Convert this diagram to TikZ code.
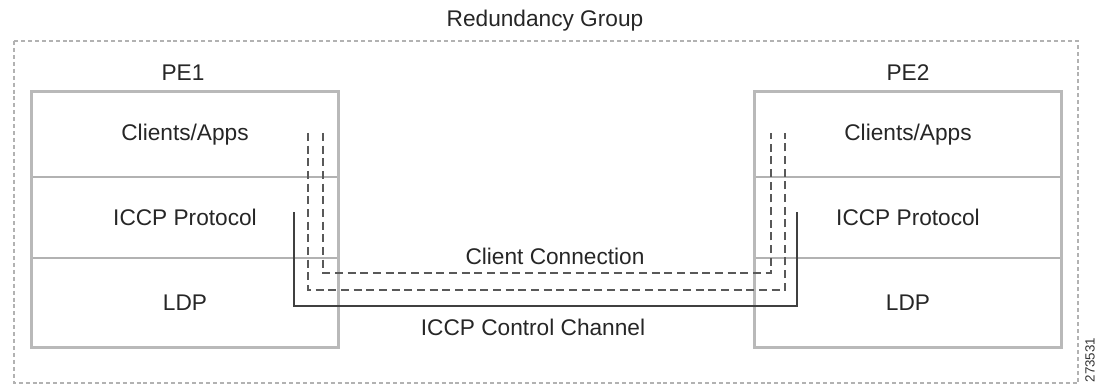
\documentclass[tikz,border=0pt]{standalone}
\usepackage{fontspec}
\setmainfont{Liberation Sans}
\usetikzlibrary{positioning}
\tikzset{
  txt/.style={font=\fontsize{17}{20}\selectfont, text=black!85},
  row/.style={draw=gray!60, line width=.8pt, txt, minimum width=229.5pt, inner sep=0pt},
  peframe/.style={draw=gray!55, line width=1.6pt},
  groupbox/.style={draw=gray!60, line width=1pt, dash pattern=on 3pt off 2.2pt},
  clientlink/.style={draw=black!65, line width=.8pt, dash pattern=on 6pt off 3.5pt},
  ctrllink/.style={draw=black!75, line width=.8pt},
}
\begin{document}
\begin{tikzpicture}[x=.75pt, y=-.75pt]
\useasboundingbox (0,0) rectangle (1101,385);
\draw[groupbox] (14,41) rectangle (1078,383);
\node[txt] (group) at (545,21) {Redundancy Group};

% PE1
\node[txt] (pe1) at (183,73) {PE1};
\node[row, minimum height=63.75pt] (pe1apps) at (185,134.5) {Clients/Apps};
\node[row, minimum height=60.75pt] (pe1iccp) at (185,217.5) {ICCP Protocol};
\node[row, minimum height=66.75pt] (pe1ldp)  at (185,302.5) {LDP};
\draw[peframe] (pe1apps.north west) rectangle (pe1ldp.south east);

% PE2
\node[txt] (pe2) at (908,73) {PE2};
\node[row, minimum height=63.75pt] (pe2apps) at (908,134.5) {Clients/Apps};
\node[row, minimum height=60.75pt] (pe2iccp) at (908,217.5) {ICCP Protocol};
\node[row, minimum height=66.75pt] (pe2ldp)  at (908,302.5) {LDP};
\draw[peframe] (pe2apps.north west) rectangle (pe2ldp.south east);

% connections
\coordinate (ca1) at (323,133); \coordinate (ca2) at (771,133);
\coordinate (cb1) at (308,133); \coordinate (cb2) at (785,133);
\coordinate (cc1) at (294,212); \coordinate (cc2) at (797,212);
\draw[clientlink] (ca1) -- (ca1 |- 0,273) -- (ca2 |- 0,273) -- (ca2);
\draw[clientlink] (cb1) -- (cb1 |- 0,290) -- (cb2 |- 0,290) -- (cb2);
\draw[ctrllink] (cc1) -- (cc1 |- 0,306) -- (cc2 |- 0,306) -- (cc2);
\node[txt] (client) at (555,256) {Client Connection};
\node[txt] (ctrl) at (533,327) {ICCP Control Channel};

\node[font=\fontsize{10}{12}\selectfont, text=black!80, rotate=90] (fig) at (1090,360) {273531};
\end{tikzpicture}
\end{document}
